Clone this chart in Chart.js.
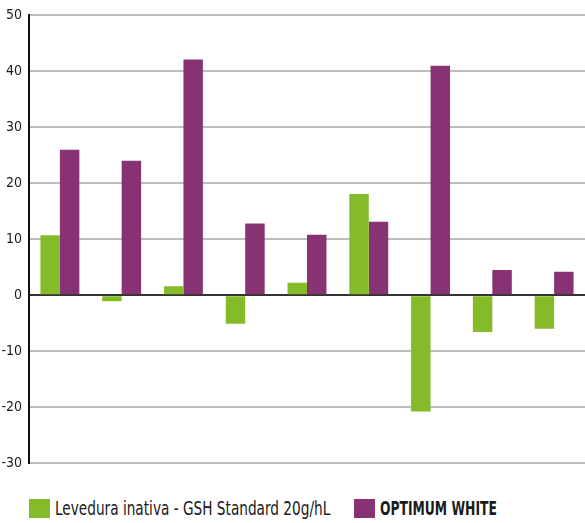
<!DOCTYPE html>
<html>
<head>
<meta charset="utf-8">
<script src="https://cdn.jsdelivr.net/npm/chart.js@4"></script>
<style>
  body { margin: 0; background: #fff; }
  #wrap { position: relative; width: 585px; height: 523px; }
  .box { position: absolute; top: 499px; width: 21px; height: 19px; }
  .txt {
    position: absolute; top: 497px; transform-origin: 0 0;
    font-family: 'DejaVu Sans Condensed', sans-serif;
    font-size: 19px; line-height: 22px; color: #1a1a1a; white-space: nowrap;
  }
</style>
</head>
<body>
<div id="wrap">
  <canvas id="barchart" width="585" height="480"></canvas>
  <div class="box" style="left:29px;background:#85bb28"></div>
  <div class="txt" id="t1" style="left:55px" data-w="275">Levedura inativa - GSH Standard 20g/hL</div>
  <div class="box" style="left:354px;background:#873373"></div>
  <div class="txt" id="t2" style="left:380px;font-weight:bold" data-w="117">OPTIMUM WHITE</div>
</div>
<script>
const categories = ['1', '2', '3', '4', '5', '6', '7', '8', '9'];
const levedura = [10.7, -1.1, 1.6, -5.1, 2.2, 18.1, -20.8, -6.6, -6.0];
const optimum = [26.0, 24.0, 42.1, 12.8, 10.8, 13.1, 41.0, 4.5, 4.2];
const yTicks = [50, 40, 30, 20, 10, 0, -10, -20, -30];

// squeeze legend text to the narrow look of the original
document.querySelectorAll('.txt').forEach(el => {
  const k = el.dataset.w / el.offsetWidth;
  el.style.transform = 'scaleX(' + k + ')';
});

const ctx = document.getElementById('barchart');

new Chart(ctx, {
  type: 'bar',
  data: {
    labels: categories,
    datasets: [{
      label: 'Levedura inativa - GSH Standard 20g/hL',
      data: levedura,
      backgroundColor: '#85bb28'
    }, {
      label: 'OPTIMUM WHITE',
      data: optimum,
      backgroundColor: '#873373'
    }]
  },
  options: {
    responsive: false,
    animation: false,
    layout: { padding: { top: 7, right: 0, bottom: 17, left: 0 } },
    datasets: { bar: { categoryPercentage: 0.63, barPercentage: 1 } },
    plugins: { legend: { display: false }, tooltip: { enabled: false } },
    scales: {
      x: { display: false },
      y: {
        min: -30,
        max: 50,
        afterFit: s => { s.width = 29; },
        afterBuildTicks: s => { s.ticks = yTicks.map(v => ({ value: v })); },
        border: { color: '#111', width: 2 },
        grid: {
          drawTicks: false,
          lineWidth: 2,
          color: c => c.tick && c.tick.value === 0 ? '#333' : '#bdbdbd'
        },
        ticks: {
          padding: 7,
          color: '#1a1a1a',
          font: { family: "'DejaVu Sans Condensed', sans-serif", size: 14 }
        }
      }
    }
  }
});
</script>
</body>
</html>
